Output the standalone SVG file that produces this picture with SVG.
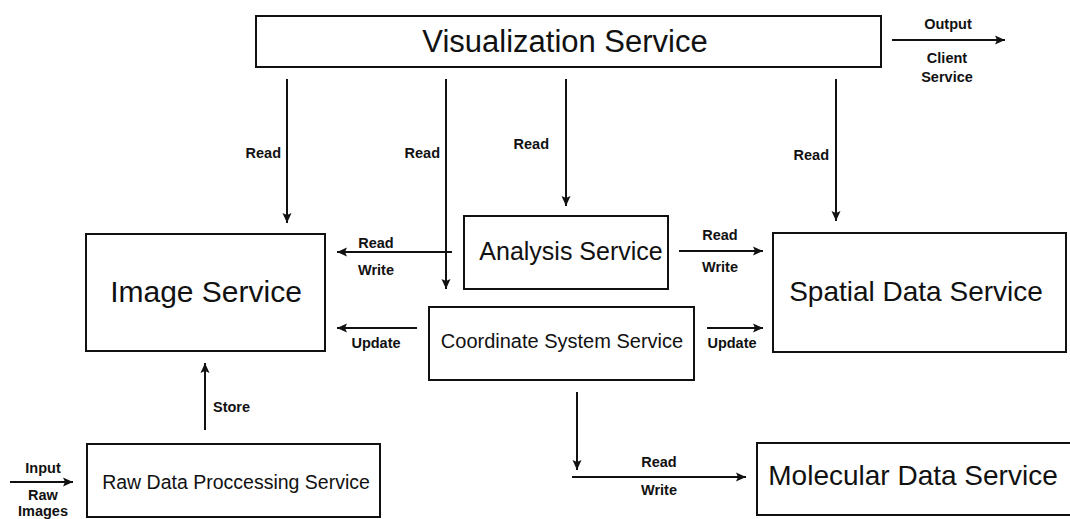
<svg xmlns="http://www.w3.org/2000/svg" width="1070" height="519" viewBox="0 0 1070 519">
<style>
.box{fill:#fff;stroke:#111;stroke-width:2}
.nt{font-family:"Liberation Sans",Arial,sans-serif;fill:#111;text-anchor:middle}
.lb{font-family:"Liberation Sans",Arial,sans-serif;font-size:14.5px;font-weight:bold;fill:#111;text-anchor:middle}
.c{fill:none;stroke:#111;stroke-width:2;marker-end:url(#ah)}
</style>
<defs>
<marker id="ah" markerUnits="userSpaceOnUse" markerWidth="11" markerHeight="11" refX="10" refY="5.5" orient="auto">
<path d="M0,1 L10,5.5 L0,10 L2,5.5 z" fill="#111"/>
</marker>
</defs>
<rect width="1070" height="519" fill="#fff"/>
<g id="visualization">
<rect class="box" x="256" y="16" width="625" height="51"/>
<text class="nt" x="565" y="52" font-size="31">Visualization Service</text>
</g>
<g id="image">
<rect class="box" x="86" y="234" width="239" height="117"/>
<text class="nt" x="206" y="302" font-size="30">Image Service</text>
</g>
<g id="analysis">
<rect class="box" x="464" y="216" width="204" height="73"/>
<text class="nt" x="571" y="260" font-size="25">Analysis Service</text>
</g>
<g id="coordinate">
<rect class="box" x="429" y="307" width="265" height="73"/>
<text class="nt" x="562" y="348" font-size="20">Coordinate System Service</text>
</g>
<g id="spatial">
<rect class="box" x="773" y="233" width="293" height="119"/>
<text class="nt" x="916" y="301" font-size="28">Spatial Data Service</text>
</g>
<g id="raw">
<rect class="box" x="87" y="444" width="293" height="73"/>
<text class="nt" x="236" y="489" font-size="19.5">Raw Data Proccessing Service</text>
</g>
<g id="molecular">
<rect class="box" x="757" y="443" width="320" height="72"/>
<text class="nt" x="913" y="485" font-size="28">Molecular Data Service</text>
</g>
<g id="connectors">
<path class="c" d="M287,79 V223"/>
<path class="c" d="M446,79 V289"/>
<path class="c" d="M566,79 V206"/>
<path class="c" d="M836,79 V221"/>
<path class="c" d="M892,40 H1005"/>
<path class="c" d="M452,252 H337"/>
<path class="c" d="M679,251 H763"/>
<path class="c" d="M417,328 H337"/>
<path class="c" d="M707,328 H763"/>
<path class="c" d="M577,392 V470"/>
<path class="c" d="M572,477 H746"/>
<path class="c" d="M205,430 V363"/>
<path class="c" d="M10,482 H73"/>
<g id="labels">
<text class="lb" x="281" y="158" style="text-anchor:end">Read</text>
<text class="lb" x="440" y="158" style="text-anchor:end">Read</text>
<text class="lb" x="549" y="149" style="text-anchor:end">Read</text>
<text class="lb" x="829" y="160" style="text-anchor:end">Read</text>
<text class="lb" x="948" y="29">Output</text>
<text class="lb" x="947" y="63">Client</text>
<text class="lb" x="947" y="82">Service</text>
<text class="lb" x="376" y="248">Read</text>
<text class="lb" x="376" y="275">Write</text>
<text class="lb" x="720" y="240">Read</text>
<text class="lb" x="720" y="272">Write</text>
<text class="lb" x="376" y="348">Update</text>
<text class="lb" x="732" y="348">Update</text>
<text class="lb" x="659" y="467">Read</text>
<text class="lb" x="659" y="495">Write</text>
<text class="lb" x="213" y="412" style="text-anchor:start">Store</text>
<text class="lb" x="43" y="473">Input</text>
<text class="lb" x="43" y="500">Raw</text>
<text class="lb" x="43" y="516">Images</text>
</g>
</g>
</svg>
